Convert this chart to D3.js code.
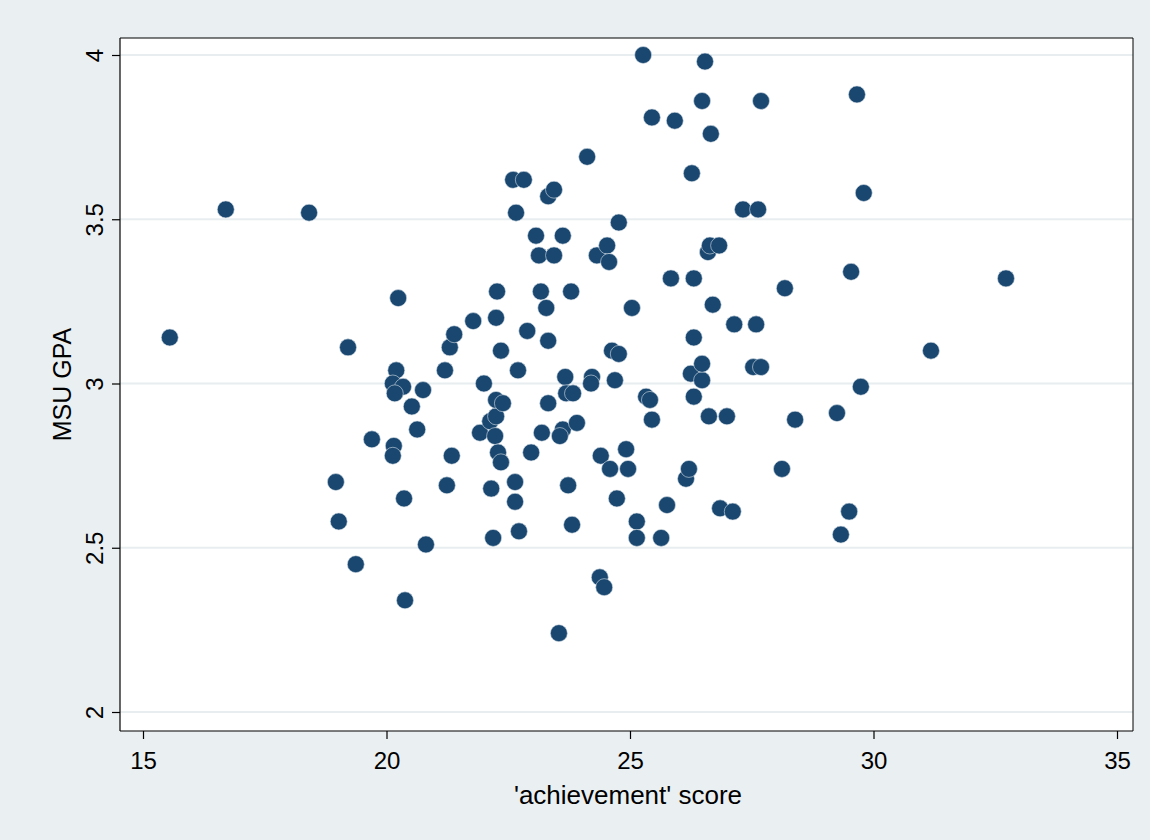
<!DOCTYPE html>
<html>
<head>
<meta charset="utf-8">
<script src="https://cdn.jsdelivr.net/npm/d3@7"></script>
<style>
  html, body { margin: 0; padding: 0; background: #ffffff; }
  svg { display: block; font-family: "Liberation Sans", Arial, Helvetica, sans-serif; }
</style>
</head>
<body>
<svg id="chart" width="1150" height="840"></svg>
<script>
// ACT-style achievement score (x) and MSU GPA (y), one entry per student
const achievement = [
  15.55, 16.70, 18.41, 19.21, 18.96, 19.02, 19.37, 19.70, 20.24, 20.20,
  20.13, 20.34, 20.17, 20.15, 20.13, 20.36, 20.38, 20.52, 20.75, 20.63,
  20.81, 21.24, 21.20, 21.30, 21.39, 21.34, 21.78, 22.00, 21.92, 22.15,
  22.19, 22.13, 22.25, 22.23, 22.25, 22.39, 22.29, 22.35, 22.35, 22.25,
  22.27, 22.60, 22.82, 22.66, 22.70, 22.64, 22.64, 22.72, 22.89, 22.97,
  23.07, 23.13, 23.17, 23.28, 23.32, 23.32, 23.44, 23.44, 23.32, 23.19,
  23.62, 23.67, 23.69, 23.83, 23.62, 23.91, 23.56, 23.73, 23.81, 23.54,
  23.79, 24.12, 24.22, 24.20, 24.32, 24.53, 24.57, 24.38, 24.47, 24.40,
  24.59, 24.63, 24.77, 24.69, 24.73, 24.77, 24.92, 24.96, 25.04, 25.14,
  25.14, 25.27, 25.33, 25.41, 25.45, 25.45, 25.64, 25.76, 25.84, 25.92,
  26.15, 26.21, 26.27, 26.31, 26.31, 26.25, 26.31, 26.48, 26.48, 26.48,
  26.54, 26.60, 26.64, 26.83, 26.66, 26.70, 26.62, 26.99, 26.85, 27.11,
  27.14, 27.32, 27.63, 27.59, 27.53, 27.69, 27.69, 28.12, 28.18, 28.39,
  29.25, 29.33, 29.50, 29.54, 29.66, 29.74, 29.80, 31.18, 32.72
];
const gpa = [
  3.14, 3.53, 3.52, 3.11, 2.70, 2.58, 2.45, 2.83, 3.26, 3.04,
  3.00, 2.99, 2.97, 2.81, 2.78, 2.65, 2.34, 2.93, 2.98, 2.86,
  2.51, 2.69, 3.04, 3.11, 3.15, 2.78, 3.19, 3.00, 2.85, 2.68,
  2.53, 2.885, 2.90, 2.84, 2.95, 2.94, 2.79, 2.76, 3.10, 3.20,
  3.28, 3.62, 3.62, 3.52, 3.04, 2.70, 2.64, 2.55, 3.16, 2.79,
  3.45, 3.39, 3.28, 3.23, 3.13, 3.57, 3.59, 3.39, 2.94, 2.85,
  3.45, 3.02, 2.97, 2.97, 2.86, 2.88, 2.84, 2.69, 2.57, 2.24,
  3.28, 3.69, 3.02, 3.00, 3.39, 3.42, 3.37, 2.41, 2.38, 2.78,
  2.74, 3.10, 3.09, 3.01, 2.65, 3.49, 2.80, 2.74, 3.23, 2.58,
  2.53, 4.00, 2.96, 2.95, 2.89, 3.81, 2.53, 2.63, 3.32, 3.80,
  2.71, 2.74, 3.64, 3.32, 3.14, 3.03, 2.96, 3.01, 3.06, 3.86,
  3.98, 3.40, 3.42, 3.42, 3.76, 3.24, 2.90, 2.90, 2.62, 2.61,
  3.18, 3.53, 3.53, 3.18, 3.05, 3.05, 3.86, 2.74, 3.29, 2.89,
  2.91, 2.54, 2.61, 3.34, 3.88, 2.99, 3.58, 3.10, 3.32
];
const xTicks = [15, 20, 25, 30, 35];
const yTicks = [2, 2.5, 3, 3.5, 4];
const xTitle = "'achievement' score";
const yTitle = "MSU GPA";

const W = 1150, H = 840;
const plot = { left: 120, right: 1133, top: 38, bottom: 731 };

const svg = d3.select("#chart");

// graph region background
svg.append("rect").attr("x", 0).attr("y", 0).attr("width", W).attr("height", H)
  .attr("fill", "#eaeff1");
// plot region
svg.append("rect")
  .attr("x", plot.left).attr("y", plot.top)
  .attr("width", plot.right - plot.left).attr("height", plot.bottom - plot.top)
  .attr("fill", "#ffffff");

const x = d3.scaleLinear().domain([15, 35]).range([143, 1117]);
const y = d3.scaleLinear().domain([2, 4]).range([712, 55]);

// horizontal grid lines
svg.append("g").selectAll("line").data(yTicks).join("line")
  .attr("x1", plot.left).attr("x2", plot.right)
  .attr("y1", d => y(d)).attr("y2", d => y(d))
  .attr("stroke", "#e8eef0").attr("stroke-width", 2);

// y axis
const yAxis = svg.append("g")
  .attr("transform", `translate(${plot.left},0)`)
  .call(d3.axisLeft(y).tickValues(yTicks).tickFormat(d3.format("~g")).tickSize(8).tickPadding(0));
yAxis.select(".domain").attr("d", `M0,${plot.top}V${plot.bottom}`).attr("stroke", "#000").attr("stroke-width", 1.2);
yAxis.selectAll(".tick line").attr("stroke", "#000").attr("stroke-width", 1.2);
yAxis.selectAll(".tick text")
  .attr("x", 0).attr("dy", 0)
  .attr("transform", "translate(-17,0) rotate(-90)")
  .attr("text-anchor", "middle")
  .style("font-size", "24px").attr("fill", "#000");

// x axis
const xAxis = svg.append("g")
  .attr("transform", `translate(0,${plot.bottom})`)
  .call(d3.axisBottom(x).tickValues(xTicks).tickFormat(d3.format("d")).tickSize(8).tickPadding(13));
xAxis.select(".domain").attr("d", `M${plot.left},0H${plot.right}`).attr("stroke", "#000").attr("stroke-width", 1.2);
xAxis.selectAll(".tick line").attr("stroke", "#000").attr("stroke-width", 1.2);
xAxis.selectAll(".tick text").style("font-size", "24px").attr("fill", "#000");

// top/right edges of the plot region
svg.append("path")
  .attr("d", `M${plot.left},${plot.top}H${plot.right}V${plot.bottom}`)
  .attr("fill", "none").attr("stroke", "#000").attr("stroke-width", 1);

// axis titles
svg.append("text")
  .attr("x", 628).attr("y", 804)
  .attr("text-anchor", "middle").style("font-size", "26px").text(xTitle);
svg.append("text")
  .attr("transform", `translate(71,${(plot.top + plot.bottom) / 2}) rotate(-90)`)
  .attr("text-anchor", "middle").style("font-size", "25px").text(yTitle);

// scatter markers
const points = achievement.map((a, i) => ({ a, g: gpa[i] }));
svg.append("g").selectAll("circle").data(points).join("circle")
  .attr("cx", d => x(d.a)).attr("cy", d => y(d.g))
  .attr("r", 8.5)
  .attr("fill", "#1a476f")
  .attr("stroke", "#d7e1ea").attr("stroke-width", 0.6);
</script>
</body>
</html>
